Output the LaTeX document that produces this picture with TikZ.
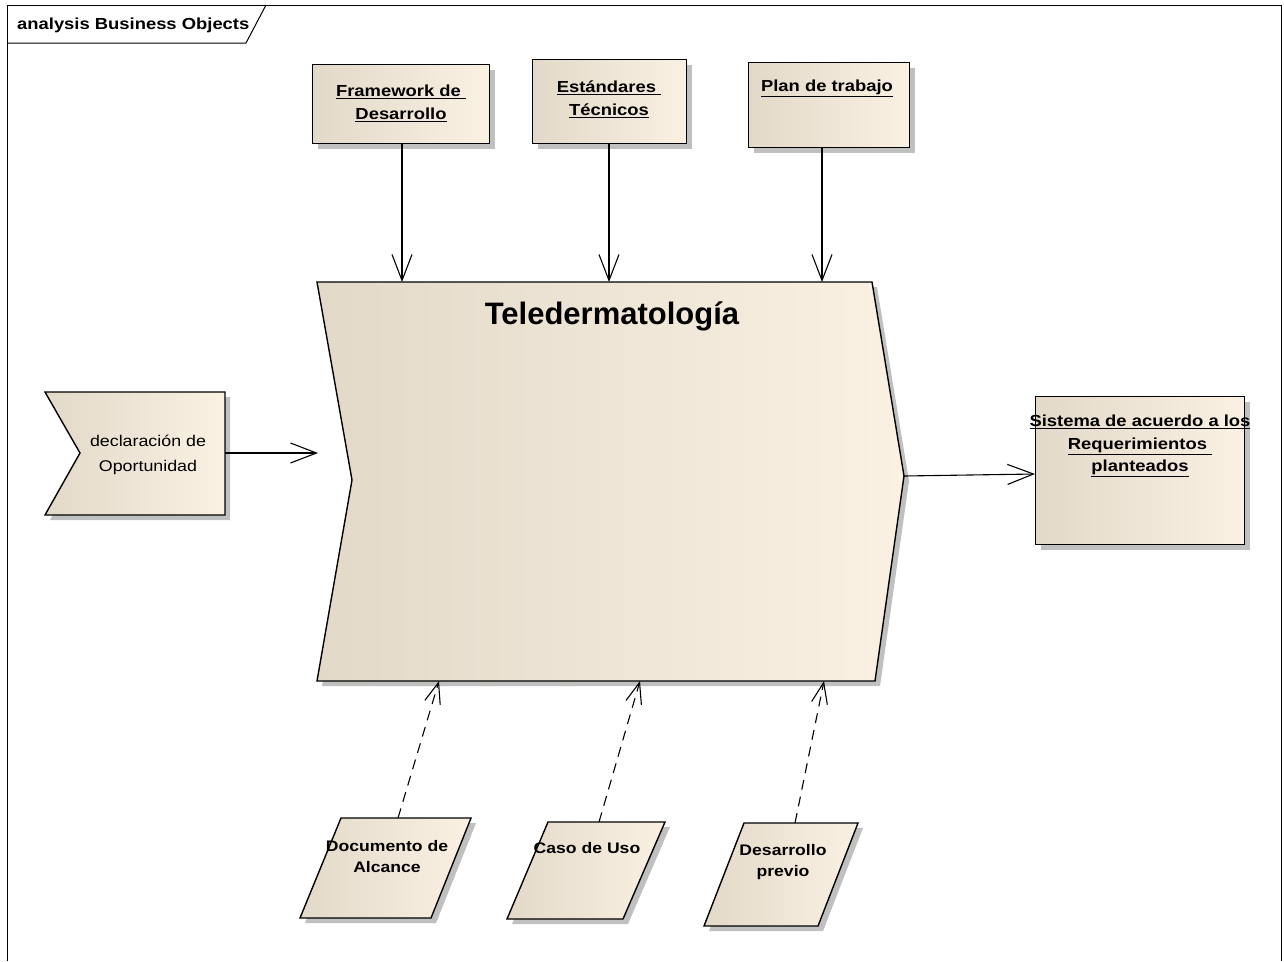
\documentclass[tikz,border=0pt]{standalone}
\usepackage{fontspec}
\setmainfont{Liberation Sans}
\newfontfamily\eafont[FakeStretch=1.15]{Liberation Sans}
\usetikzlibrary{arrows.meta,shadows}

\definecolor{beigeL}{RGB}{227,217,201}
\definecolor{beigeR}{RGB}{251,241,227}
\definecolor{shadowgray}{RGB}{192,192,192}

\tikzset{
  eashadow/.style={drop shadow={shadow xshift=5pt, shadow yshift=-5pt, fill=shadowgray, opacity=1}},
  eafill/.style={draw=black, line width=1.4pt, left color=beigeL, middle color=beigeR, right color=beigeR, eashadow},
  eabox/.style={eafill, rectangle, inner sep=0pt, anchor=north west},
  boldtxt/.style={inner sep=0pt, align=center, font={\eafont\bfseries\fontsize{16}{23}\selectfont}},
  smalltxt/.style={inner sep=0pt, align=center, font={\eafont\bfseries\fontsize{15.3}{21}\selectfont}},
  plaintxt/.style={inner sep=0pt, align=center, font={\eafont\fontsize{15.5}{25}\selectfont}},
  flow/.style={draw=black, line width=1.1pt, -{Straight Barb[length=26pt,width=20pt,line width=1.1pt]}},
  dep/.style={draw=black, line width=1.1pt, dash pattern=on 10pt off 7pt,
    -{Straight Barb[length=21pt,width=16pt,line width=1.1pt,sep=0pt]}},
}

\begin{document}
\begin{tikzpicture}[x=1pt,y=-1pt]
\useasboundingbox (0,0) rectangle (1284,961);
\fill[white] (0,0) rectangle (1284,961);

% diagram frame and its name tab
\draw[line width=1pt] (7,961) -- (7,5) -- (1281,5) -- (1281,961);
\draw[line width=1pt] (7,43) -- (246,43) -- (266,5);
\node[anchor=base west, inner sep=0pt, font={\eafont\bfseries\fontsize{16}{19}\selectfont}] (frametitle) at (17,29) {analysis Business Objects};

% main process (chevron)
\path[eafill] (317,282) -- (872,282) -- (904,476) -- (875,681) -- (317,681) -- (352,480) -- cycle;
\node[inner sep=0pt, font={\bfseries\fontsize{31}{36}\selectfont}] (tele) at (612,316) {Teledermatología};
\coordinate (teleN1) at (402,282);
\coordinate (teleN2) at (609,282);
\coordinate (teleN3) at (822,282);
\coordinate (teleW) at (318,453);
\coordinate (teleE) at (904,476);
\coordinate (teleS1) at (439,681);
\coordinate (teleS2) at (640,681);
\coordinate (teleS3) at (824,681);

% controlling objects on top
\node[eabox, minimum width=177pt, minimum height=79pt] (fw) at (312,64) {};
\node[boldtxt] (fwtext) at (401,103) {\underline{Framework de\ }\\\underline{Desarrollo}};
\node[eabox, minimum width=154pt, minimum height=84pt] (std) at (532,59) {};
\node[boldtxt] (stdtext) at (609,99) {\underline{Estándares\ }\\\underline{Técnicos}};
\node[eabox, minimum width=161pt, minimum height=85pt] (plan) at (748,62) {};
\node[boldtxt] (plantext) at (827,88) {\underline{Plan de trabajo}};

% triggering event
\path[eafill] (45,392) -- (225,392) -- (225,515) -- (45,515) -- (80,453) -- cycle;
\node[plaintxt] (decl) at (148,455) {declaración de\\Oportunidad};
\coordinate (declE) at (225,453);

% output object
\node[eabox, minimum width=209pt, minimum height=148pt] (sis) at (1035,396) {};
\node[boldtxt, font={\eafont\bfseries\fontsize{16}{22.5}\selectfont}] (sistext) at (1140,446)
  {\underline{Sistema de acuerdo a los}\\\underline{Requerimientos\ }\\\underline{planteados}};
\coordinate (sisW) at (1035,474);

% supporting information (parallelograms)
\path[eafill] (341,818) -- (471,818) -- (431,918) -- (300,918) -- cycle;
\node[smalltxt] (doc) at (387,857) {Documento de\\Alcance};
\coordinate (docN) at (398,818);
\path[eafill] (548,822) -- (665,822) -- (623,919) -- (507,919) -- cycle;
\node[smalltxt] (caso) at (587,848) {Caso de Uso};
\coordinate (casoN) at (599,822);
\path[eafill] (744,823) -- (858,823) -- (818,926) -- (704,926) -- cycle;
\node[smalltxt] (prev) at (783,862) {Desarrollo\\previo};
\coordinate (prevN) at (795,823);

% connectors
\draw[flow] (fw.south -| teleN1) -- (teleN1);
\draw[flow] (std.south -| teleN2) -- (teleN2);
\draw[flow] (plan.south -| teleN3) -- (teleN3);
\draw[flow] (declE) -- (teleW);
\draw[flow] (teleE) -- (sisW);
\draw[dep] (docN) -- (teleS1);
\draw[dep] (casoN) -- (teleS2);
\draw[dep] (prevN) -- (teleS3);
\end{tikzpicture}
\end{document}
